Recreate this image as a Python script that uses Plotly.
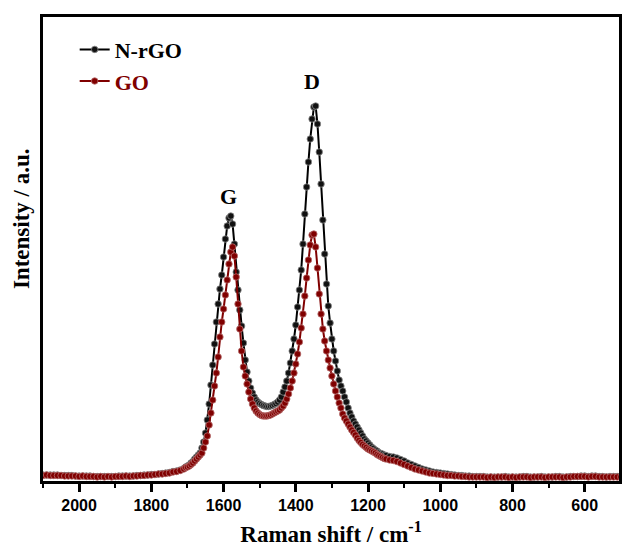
import plotly.graph_objects as go

# Raman shift sampling (cm^-1)
shift_left = list(range(2100, 1709, -10))
shift_peaks = list(range(1705, 1149, -5))
shift_right = list(range(1140, 499, -10))

# N-rGO intensity (a.u.)
nrgo_left = [7, 7, 7, 7, 7, 6.5, 6.5, 6.5, 6.5, 6, 6, 6, 6, 6, 5.5, 5.5, 5.5, 5.5, 5.5, 5.5,
             5.5, 6, 6, 6, 6, 6, 6.5, 6.5, 7, 7, 7.5, 7.5, 8, 8.5, 9, 9.5, 10.5, 11, 12, 13.5]
nrgo_peaks = [15, 16, 17, 19, 20.5, 23, 25, 27, 29, 34,
              40, 49, 62, 78, 97, 117, 138, 160, 178, 193,
              207, 225, 243, 256, 264, 266, 258, 238, 210, 192,
              172, 156, 139, 122, 110, 101, 94, 89, 85, 82,
              80, 78.5, 77.5, 76.5, 76, 75.5, 75.5, 76, 76.5, 77.5,
              78.5, 80, 82, 85, 90, 95, 101, 109, 119, 131,
              143, 157, 175, 192, 212, 238, 268, 295, 320, 343,
              363, 375, 376, 358, 330, 298, 262, 228, 198, 176,
              159, 143, 131, 121, 111, 102, 96, 91, 85, 80,
              74, 69, 65, 61, 58, 55, 52, 49, 46, 43,
              41, 39, 37, 35, 33.5, 32, 31, 29.5, 28.5, 28,
              27, 26.5]
nrgo_right = [25.5, 25, 24, 22.5, 21, 19, 17.5, 16, 14.5, 13,
              12, 11, 10, 9.5, 9, 8.5, 8, 7.5, 7, 6.5,
              6.5, 6, 6, 5.5, 5.5, 5.5, 5.5, 5, 5, 5,
              5, 5, 5.5, 5, 5, 5, 5, 5.5, 5.5, 5,
              5, 5, 5.5, 5, 5, 5, 5.5, 5.5, 5, 5,
              5.5, 5.5, 5.5, 6, 6, 5.5, 6, 6, 5.5, 5.5,
              5, 5.5, 5.5, 5.5, 5.5]

# GO intensity (a.u.)
go_left = [6.5, 7, 6.5, 6.5, 6.5, 6.5, 6, 6, 6, 6, 5.5, 6, 5.5, 5.5, 5.5, 5, 5.5, 5, 5.5, 5,
           5.5, 5.5, 5.5, 6, 5.5, 6, 6, 6.5, 6.5, 7, 7, 7.5, 8, 8, 8.5, 9, 10, 10.5, 11.5, 13]
go_peaks = [14.5, 15, 16, 17.5, 19, 21, 23, 25, 27, 29,
            34, 40, 46, 57, 69, 82, 96, 109, 125, 145,
            160, 173, 187, 202, 218, 230, 235, 226, 205, 178,
            153, 131, 115, 106, 98, 90, 83, 78, 74, 71,
            69, 67.5, 66.5, 66, 66, 66, 66.5, 67, 68, 69,
            70, 71, 72, 74, 76, 79, 83, 88, 94, 101,
            109, 118, 128, 140, 154, 168, 186, 204, 222, 237,
            247, 248, 235, 214, 188, 168, 153, 141, 131, 122,
            114, 106, 98, 91, 85, 79, 74, 68, 64, 61,
            58, 55, 52, 49.5, 47, 44, 41.5, 39.5, 37.5, 36,
            34.5, 33, 32, 31, 30, 29, 27.5, 26.5, 25.5, 24.5,
            23.5, 23]
go_right = [22, 21.5, 20.5, 19, 17.5, 16, 14.5, 13, 12, 11,
            10, 9, 8.5, 8, 7.5, 7, 6.5, 6.5, 6, 6,
            5.5, 5.5, 5, 5, 5, 5, 5, 4.5, 5, 4.5,
            5, 5, 5, 4.5, 5, 4.5, 5, 5, 5, 4.5,
            5, 5, 5, 4.5, 5, 5, 5, 5, 4.5, 5,
            5, 5.5, 5.5, 5.5, 5.5, 5, 5.5, 5.5, 5, 5,
            5, 5, 5, 5, 5]

x_tick_vals = [2000, 1800, 1600, 1400, 1200, 1000, 800, 600]
peak_labels = ["G", "D"]
peak_pos = [1585, 1354]
peak_label_y = [286, 401]

shift = shift_left + shift_peaks + shift_right
nrgo = nrgo_left + nrgo_peaks + nrgo_right
go_int = go_left + go_peaks + go_right
assert len(shift) == len(nrgo) == len(go_int), (len(shift), len(nrgo), len(go_int))

SERIF = "Liberation Serif"
RED = "#800000"

fig = go.Figure()
fig.add_trace(go.Scatter(
    x=shift, y=nrgo, mode="lines+markers", name="N-rGO",
    line=dict(color="black", width=2),
    marker=dict(symbol="circle", size=6.5, color="#111111",
                line=dict(color="#8a8a8a", width=0.8)),
))
fig.add_trace(go.Scatter(
    x=shift, y=go_int, mode="lines+markers",
    name='<span style="color:#800000">GO</span>',
    line=dict(color=RED, width=2),
    marker=dict(symbol="circle", size=6.5, color=RED,
                line=dict(color="#b87070", width=0.8)),
))

for lab, xp, yp in zip(peak_labels, peak_pos, peak_label_y):
    fig.add_annotation(x=xp, y=yp, xref="x", yref="y", text=lab, showarrow=False,
                       font=dict(family=SERIF, size=22, color="black", weight="bold"))

fig.add_annotation(x=-0.036, y=0.565, xref="paper", yref="paper",
                   text="Intensity / a.u.", textangle=-90, showarrow=False,
                   xanchor="center", yanchor="middle",
                   font=dict(family=SERIF, size=23, color="black", weight="bold"))

fig.update_layout(
    width=624, height=547,
    margin=dict(l=43, r=2, t=17, b=66),
    paper_bgcolor="white", plot_bgcolor="white",
    showlegend=True,
    legend=dict(x=0.055, y=0.975, xanchor="left", yanchor="top",
                bgcolor="rgba(0,0,0,0)", borderwidth=0,
                font=dict(family=SERIF, size=22, color="black", weight="bold"),
                tracegroupgap=0, itemwidth=30),
    xaxis=dict(
        range=[2100, 505], tickmode="array", tickvals=x_tick_vals,
        ticks="outside", ticklen=8, tickwidth=2.5, tickcolor="black",
        minor=dict(dtick=100, tick0=0, ticks="outside", ticklen=4, tickwidth=2, tickcolor="black"),
        showline=True, linewidth=3, linecolor="black", mirror=True,
        showgrid=False, zeroline=False,
        tickfont=dict(family="Liberation Sans", size=16, color="black", weight="bold"),
        title=dict(text="Raman shift / cm<sup>-1</sup>", standoff=14,
                   font=dict(family=SERIF, size=23, color="black", weight="bold")),
    ),
    yaxis=dict(
        range=[1, 465], showticklabels=False, ticks="",
        showline=True, linewidth=3, linecolor="black", mirror=True,
        showgrid=False, zeroline=False,
    ),
)

fig.write_html("out.html")
